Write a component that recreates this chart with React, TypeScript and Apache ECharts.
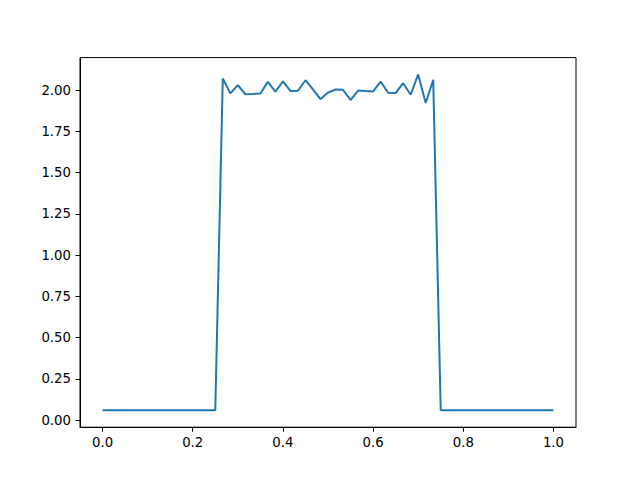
import React, { useEffect, useRef } from "react";
import * as echarts from "echarts";

// sample values, evenly spaced on [0, 1] (61 samples)
const yValues: number[] = [
  0.06, 0.06, 0.06, 0.06, 0.06, 0.06, 0.06, 0.06, 0.06, 0.06,
  0.06, 0.06, 0.06, 0.06, 0.06, 0.06,
  2.07, 1.98, 2.03, 1.975, 1.977, 1.98, 2.05, 1.99, 2.053, 1.995,
  1.996, 2.06, 2.005, 1.945, 1.985, 2.004, 2.002, 1.94, 1.997, 1.994,
  1.992, 2.052, 1.984, 1.982, 2.042, 1.972, 2.095, 1.922, 2.063,
  0.06, 0.06, 0.06, 0.06, 0.06, 0.06, 0.06, 0.06, 0.06, 0.06,
  0.06, 0.06, 0.06, 0.06, 0.06, 0.06,
];
const sampleCount = yValues.length - 1;
const xTicks: number[] = [0, 0.2, 0.4, 0.6, 0.8, 1.0];
const yTicks: number[] = [0, 0.25, 0.5, 0.75, 1.0, 1.25, 1.5, 1.75, 2.0];

export default function App() {
  const ref = useRef<HTMLDivElement>(null);
  useEffect(() => {
    if (!ref.current) return;
    const chart = echarts.init(ref.current, null, { renderer: "svg" });
    const data = yValues.map((y, i) => [i / sampleCount, y]);
    const font = "DejaVu Sans";
    chart.setOption({
      animation: false,
      backgroundColor: "#ffffff",
      grid: {
        left: 80,
        top: 57.6,
        width: 496,
        height: 369.6,
        show: true,
        borderColor: "#000000",
        borderWidth: 1,
        backgroundColor: "transparent",
        containLabel: false,
      },
      xAxis: {
        type: "value",
        min: -0.05,
        max: 1.05,
        splitLine: { show: false },
        axisLine: { show: true, onZero: false, lineStyle: { color: "#000", width: 1 } },
        axisTick: {
          show: true,
          length: 4.5,
          lineStyle: { color: "#000", width: 1 },
          customValues: xTicks,
        },
        axisLabel: {
          customValues: xTicks,
          color: "#000",
          fontFamily: font,
          fontSize: 13.3,
          margin: 9,
          formatter: (v: number) => v.toFixed(1),
        },
      },
      yAxis: {
        type: "value",
        min: -0.042,
        max: 2.197,
        splitLine: { show: false },
        axisLine: { show: true, onZero: false, lineStyle: { color: "#000", width: 1 } },
        axisTick: {
          show: true,
          length: 4.5,
          lineStyle: { color: "#000", width: 1 },
          customValues: yTicks,
        },
        axisLabel: {
          customValues: yTicks,
          color: "#000",
          fontFamily: font,
          fontSize: 13.3,
          margin: 9,
          formatter: (v: number) => v.toFixed(2),
        },
      },
      series: [
        {
          type: "line",
          data,
          showSymbol: false,
          symbol: "none",
          lineStyle: { color: "#1f77b4", width: 2 },
        },
      ],
    });
    return () => chart.dispose();
  }, []);
  return (
    <div
      ref={ref}
      style={{ position: "fixed", left: 0, top: 0, width: 640, height: 480 }}
    />
  );
}
